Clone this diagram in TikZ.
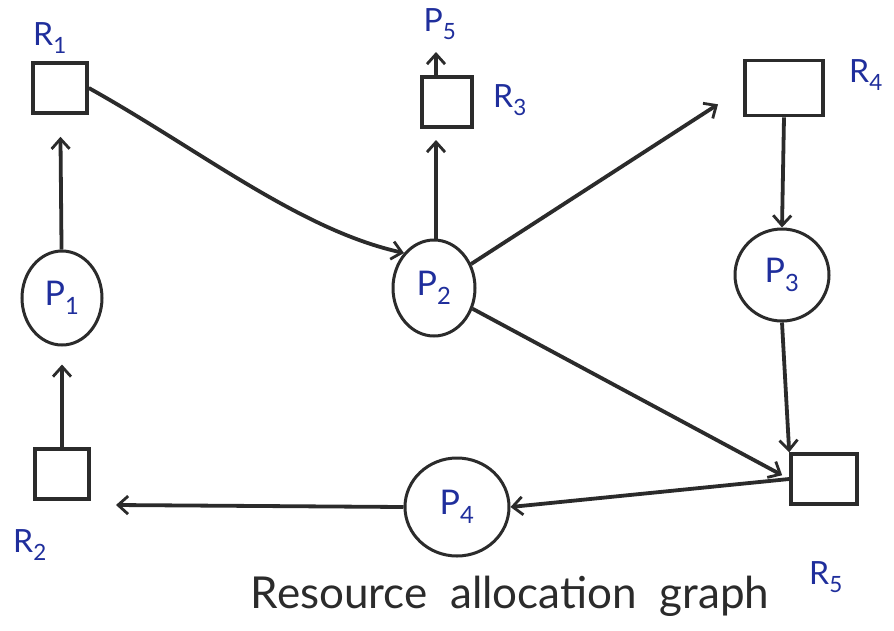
\documentclass[tikz,border=0pt]{standalone}
\usepackage{fontspec}
\setmainfont{Lato}
\usetikzlibrary{arrows.meta,shapes.geometric}
\definecolor{ink}{HTML}{2B2B2B}
\definecolor{penblue}{HTML}{1F2E9C}
\begin{document}
\begin{tikzpicture}[x=1pt,y=-1pt,
  res/.style={draw=ink,line width=3.6pt,minimum width=#1,minimum height=50pt,inner sep=0pt},
  res/.default=54pt,
  proc/.style={draw=ink,line width=3pt,ellipse,inner sep=0pt,text=penblue,font=\fontsize{34}{36}\selectfont},
  lbl/.style={text=penblue,font=\fontsize{32}{34}\selectfont,inner sep=0pt},
  edge/.style={draw=ink,line width=3.8pt,-{Straight Barb[length=10pt,width=18pt,line width=2.8pt]}}]
\useasboundingbox[fill=white] (0,0) rectangle (894,630);

% resources
\node[res] (R1) at (60,88) {};
\node[res] (R2) at (62,474) {};
\node[res=50pt] (R3) at (447,102) {};
\node[res=78pt,minimum height=55pt] (R4) at (784,88) {};
\node[res=66pt] (R5) at (824,479) {};

% processes
\node[proc,minimum width=80pt,minimum height=94pt] (P1) at (62,298) {P\textsubscript{1}};
\node[proc,minimum width=82pt,minimum height=96pt] (P2) at (434,288) {P\textsubscript{2}};
\node[proc,minimum width=94pt,minimum height=92pt] (P3) at (782,275) {P\textsubscript{3}};
\node[proc,minimum width=104pt,minimum height=98pt] (P4) at (457,507) {P\textsubscript{4}};

% labels
\node[lbl] (lR1) at (50,38) {R\textsubscript{1}};
\node[lbl] (lR2) at (30,545) {R\textsubscript{2}};
\node[lbl] (lR3) at (510,100) {R\textsubscript{3}};
\node[lbl] (lR4) at (866,75) {R\textsubscript{4}};
\node[lbl] (lR5) at (826,577) {R\textsubscript{5}};
\node[lbl] (P5) at (440,24) {P\textsubscript{5}};

\node[text=ink,inner sep=0pt,font=\fontsize{44}{48}\selectfont] (cap) at (510,596) {Resource\ \ allocation\ \ graph};

% free ends of the arrows into R2 and R3
\coordinate (r2in) at (116,505);
\coordinate (r3in) at (436,140);
\coordinate (r3out) at (436,78);
\coordinate (p5in) at (436,52);

% edges
\draw[edge,shorten >=22pt] (P1) -- (R1);
\draw[edge,shorten >=18pt] (R2) -- (P1);
\draw[edge] (R1.east) .. controls (200,150) and (300,230) .. (P2.north west);
\draw[edge] (P2.north -| r3in) -- (r3in);
\draw[edge] (r3out) -- (p5in);
\draw[edge,shorten >=30pt] (P2) -- (R4.west);
\draw[edge] (R4.south) -- (P3.north);
\draw[edge] (P3.south) -- (R5.north west);
\draw[edge,shorten >=8pt] (P2) -- (R5.west);
\draw[edge] (R5.west) -- (P4.east);
\draw[edge] (P4.west) -- (r2in);
\end{tikzpicture}
\end{document}
